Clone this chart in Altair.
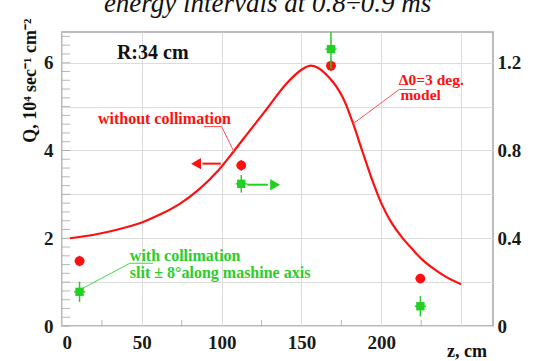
import altair as alt
import pandas as pd

# ---------------- data ----------------
curve_z = [5, 20, 35, 50, 62, 74, 86, 98, 108, 118, 129, 140, 150, 155, 160,
           170, 176, 182, 188, 194, 200, 206, 213, 220, 226, 233, 240, 250]
curve_q = [2.0, 2.08, 2.2, 2.36, 2.55, 2.79, 3.12, 3.55, 4.0, 4.47, 4.98, 5.5, 5.84, 5.93, 5.89,
           5.55, 5.2, 4.65, 4.0, 3.36, 2.8, 2.38, 2.02, 1.73, 1.5, 1.3, 1.13, 0.95]

red_z = [11, 112.3, 168.5, 224.5]
red_q = [1.48, 3.66, 5.93, 1.08]
red_dz = [3, 3, 3, 3]
red_dq = [0.12, 0.12, 0.12, 0.1]

green_z = [11, 112.3, 168.5, 224.5]
green_q = [0.78, 3.24, 6.31, 0.45]
green_dz = [3.5, 3.5, 3.5, 3.5]
green_dq = [0.23, 0.2, 0.45, 0.23]

x_ticks = [0, 50, 100, 150, 200, 250]
x_labels = [0, 50, 100, 150, 200]
y_grid = [0, 1, 2, 3, 4, 5, 6]
right_ticks = [0, 0.4, 0.8, 1.2]
y_minor = [round(i * 0.2, 1) for i in range(34)]
x_minor = [25, 75, 125, 175, 225]

RED = "#ff1010"
GREEN = "#22d022"
GREEN_TXT = "#2ccc2c"
FONT = "Liberation Serif"

X = alt.Scale(domain=[0, 270], nice=False, zero=False)
Y = alt.Scale(domain=[0, 6.7], nice=False, zero=False)


def xe(f, **kw):
    return alt.X(f, scale=X, **kw)


def ye(f, **kw):
    return alt.Y(f, scale=Y, **kw)


x_label_expr = "indexof([" + ",".join(str(v) for v in x_labels) + "], datum.value) >= 0 ? datum.label : ''"

# ---------------- curve with axes ----------------
curve_df = pd.DataFrame({"z": curve_z, "q": curve_q})
curve = alt.Chart(curve_df).mark_line(color=RED, strokeWidth=2.2, interpolate="catmull-rom").encode(
    x=xe("z:Q", axis=alt.Axis(values=x_ticks, grid=True, gridColor="#dcdcdc", ticks=False, domain=False,
                              labelExpr=x_label_expr,
                              labelFont=FONT, labelFontWeight="bold", labelFontSize=19, labelColor="#1a1a1a",
                              labelPadding=7, title=None)),
    y=ye("q:Q", axis=alt.Axis(values=y_grid, grid=True, gridColor="#dcdcdc", ticks=False, domain=False,
                              labelExpr="datum.value % 2 == 0 ? datum.label : ''",
                              labelFont=FONT, labelFontWeight="bold", labelFontSize=19, labelColor="#1a1a1a",
                              labelPadding=9, title=None)),
)

# minor inner ticks
ym_df = pd.DataFrame({"q": y_minor, "z": [0] * len(y_minor)})
y_minor_ticks = alt.Chart(ym_df).mark_tick(orient="horizontal", size=8, thickness=1, color="#9a9a9a",
                                           xOffset=4).encode(x=xe("z:Q"), y=ye("q:Q"))
xm_df = pd.DataFrame({"z": x_minor, "q": [0] * len(x_minor)})
x_minor_ticks = alt.Chart(xm_df).mark_tick(orient="vertical", size=6, thickness=1, color="#9a9a9a",
                                           yOffset=-3).encode(x=xe("z:Q"), y=ye("q:Q"))

# ---------------- leader lines ----------------
seg_red = pd.DataFrame({
    "z1": [88.75, 100, 211.25, 211.25],
    "q1": [4.545, 4.545, 5.39, 5.39],
    "z2": [100, 108, 222, 182],
    "q2": [4.545, 3.95, 5.39, 4.6],
})
seg_green = pd.DataFrame({
    "z1": [13, 42.5],
    "q1": [0.86, 1.43],
    "z2": [42.5, 57],
    "q2": [1.43, 1.43],
})
lead_red = alt.Chart(seg_red).mark_rule(color="#ff5050", strokeWidth=1).encode(
    x=xe("z1:Q"), y=ye("q1:Q"), x2="z2:Q", y2="q2:Q")
lead_green = alt.Chart(seg_green).mark_rule(color="#40dd40", strokeWidth=1).encode(
    x=xe("z1:Q"), y=ye("q1:Q"), x2="z2:Q", y2="q2:Q")


# ---------------- points with error bars ----------------
def points(zs, qs, dzs, dqs, color, shape, size):
    df = pd.DataFrame({"z": zs, "q": qs})
    df["zl"] = [a - b for a, b in zip(zs, dzs)]
    df["zh"] = [a + b for a, b in zip(zs, dzs)]
    df["ql"] = [a - b for a, b in zip(qs, dqs)]
    df["qh"] = [a + b for a, b in zip(qs, dqs)]
    base = alt.Chart(df)
    vbar = base.mark_rule(color=color, strokeWidth=1.5, clip=True).encode(
        x=xe("z:Q"), y=ye("ql:Q"), y2="qh:Q")
    hbar = base.mark_rule(color=color, strokeWidth=1.5, clip=True).encode(
        x=xe("zl:Q"), x2="zh:Q", y=ye("q:Q"))
    pts = base.mark_point(shape=shape, filled=True, color=color, opacity=1, size=size).encode(
        x=xe("z:Q"), y=ye("q:Q"))
    return [vbar, hbar, pts]


red_layers = points(red_z, red_q, red_dz, red_dq, RED, "circle", 95)
green_layers = points(green_z, green_q, green_dz, green_dq, GREEN, "square", 70)

# ---------------- arrows ----------------
shaft_df = pd.DataFrame({"z1": [88, 116], "z2": [99.5, 129], "q": [3.70, 3.22], "c": ["r", "g"]})
head_df = pd.DataFrame({"z": [84, 133.5], "q": [3.70, 3.22], "c": ["r", "g"],
                        "s": ["triangle-left", "triangle-right"]})
cscale = alt.Scale(domain=["r", "g"], range=[RED, GREEN])
shafts = alt.Chart(shaft_df).mark_rule(strokeWidth=2).encode(
    x=xe("z1:Q"), x2="z2:Q", y=ye("q:Q"), color=alt.Color("c:N", scale=cscale, legend=None))
heads = alt.Chart(head_df).mark_point(filled=True, opacity=1, size=130).encode(
    x=xe("z:Q"), y=ye("q:Q"), color=alt.Color("c:N", scale=cscale, legend=None),
    shape=alt.Shape("s:N", scale=alt.Scale(domain=["triangle-left", "triangle-right"],
                                           range=["triangle-left", "triangle-right"]), legend=None))


# ---------------- texts ----------------
def texts(zs, qs, ts, **kw):
    df = pd.DataFrame({"z": zs, "q": qs, "t": ts})
    return alt.Chart(df).mark_text(font=FONT, **kw).encode(x=xe("z:Q"), y=ye("q:Q"), text="t:N")


t_r = texts([34.4], [6.09], ["R:34 cm"], fontSize=20, fontWeight="bold", color="#111",
            align="left", baseline="alphabetic")
t_without = texts([22.5], [4.61], ["without collimation"], fontSize=16, fontWeight="bold", color=RED,
                  align="left", baseline="alphabetic")
t_model = texts([211, 212], [5.5, 5.14], ["\u03940=3 deg.", "model"], fontSize=15.5, fontWeight="bold",
                color=RED, align="left", baseline="alphabetic")
t_with = texts([42.5, 42.5], [1.48, 1.09], ["with collimation", "slit \u00b1 8\u00b0along mashine axis"],
               fontSize=16, fontWeight="bold", color=GREEN_TXT, align="left", baseline="alphabetic")
t_title = texts([128.75], [7.16], ["energy intervals at 0.8\u00f70.9 ms"], fontSize=27, fontStyle="italic",
                color="#111", align="center", baseline="alphabetic")
t_ytitle = texts([-19.4], [5.59], ["Q, 10\u2074 sec\u207b\u00b9 cm\u207b\u00b2"], fontSize=18, fontWeight="bold",
                 color="#111", align="center", baseline="middle", angle=270)
t_xtitle = texts([253.75], [-0.59], ["z, cm"], fontSize=18, fontWeight="bold", color="#111",
                 align="center", baseline="middle")

inner = alt.layer(
    curve, y_minor_ticks, x_minor_ticks, lead_red, lead_green,
    *red_layers, *green_layers, shafts, heads,
    t_r, t_without, t_model, t_with, t_title, t_ytitle, t_xtitle,
)

# right axis (Q/5)
right_df = pd.DataFrame({"r": right_ticks})
right = alt.Chart(right_df).mark_point(opacity=0).encode(
    y=alt.Y("r:Q", scale=alt.Scale(domain=[0, 1.34], nice=False, zero=False),
            axis=alt.Axis(orient="right", values=right_ticks, grid=False, ticks=False, domain=False,
                          labelExpr="datum.value == 0 ? '0' : format(datum.value, '.1f')",
                          labelFont=FONT, labelFontWeight="bold", labelFontSize=19, labelColor="#1a1a1a",
                          labelPadding=4, title=None)))

chart = alt.layer(inner, right).resolve_scale(y="independent").properties(
    width=431, height=294,
    autosize=alt.AutoSizeParams(type="none"),
    padding={"left": 62, "top": 32, "right": 40, "bottom": 35},
    background="white",
).configure_view(stroke="#a5a5a5", strokeWidth=1.5).configure_axis(
    labelFont=FONT, labelFontWeight="bold")

chart.save("out.html", embed_options={"renderer": "svg", "actions": False})
